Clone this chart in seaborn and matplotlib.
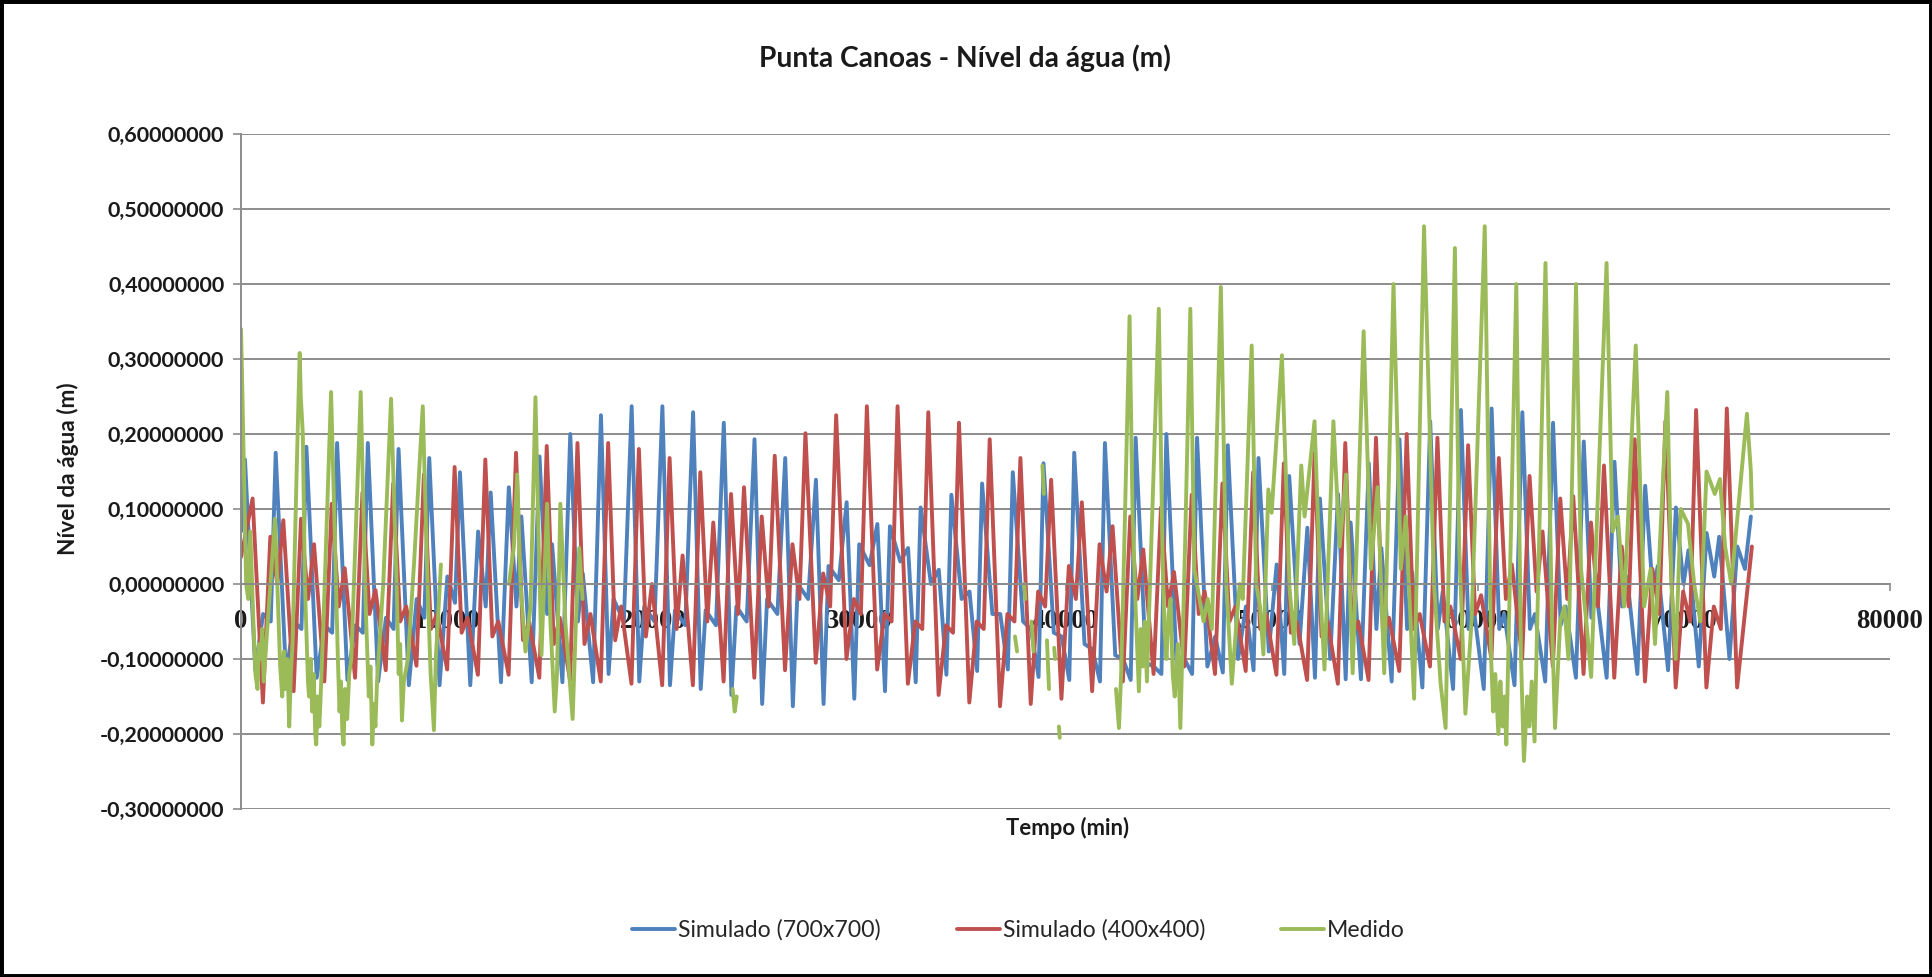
import numpy as np
import pandas as pd
import matplotlib
matplotlib.use("Agg")
import matplotlib.pyplot as plt
import seaborn as sns
from matplotlib.patches import Rectangle
from matplotlib.ticker import FuncFormatter

# cores das series (padrao Excel)
cores = {
    "Simulado (700x700)": "#4F81BD",
    "Simulado (400x400)": "#C0504D",
    "Medido": "#9BBB59",
}

# eixos
x_ticks = [0, 10000, 20000, 30000, 40000, 50000, 60000, 70000, 80000]
y_ticks = [-0.3, -0.2, -0.1, 0.0, 0.1, 0.2, 0.3, 0.4, 0.5, 0.6]

# Simulado (700x700) - extremos (tempo em min, nivel em m)
blue_t = [
    0,
    193, 693, 1073, 1443, 1683, 2183, 2563, 2933, 3173, 3673, 4053, 4423,
    4663, 5163, 5543, 5913, 6153, 6653, 7033, 7403, 7643, 8143, 8523, 8893,
    9133, 9633, 10013, 10383, 10623, 11123, 11503, 11873, 12113, 12613, 12993, 13363,
    13603, 14103, 14483, 14853, 15093, 15593, 15973, 16343, 16583, 17083, 17463, 17833,
    18073, 18573, 18953, 19323, 19563, 20063, 20443, 20813, 21053, 21553, 21933, 22303,
    22543, 23043, 23423, 23793, 24033, 24533, 24913, 25283, 25523, 26023, 26403, 26773,
    27013, 27513, 27893, 28263, 28503, 29003, 29383, 29753, 29993, 30493, 30873, 31243,
    31483, 31983, 32363, 32733, 32973, 33473, 33853, 34223, 34463, 34963, 35343, 35713,
    35953, 36453, 36833, 37203, 37443, 37943, 38323, 38693, 38933, 39433, 39813, 40183,
    40423, 40923, 41303, 41673, 41913, 42413, 42793, 43163, 43403, 43903, 44283, 44653,
    44893, 45393, 45773, 46143, 46383, 46883, 47263, 47633, 47873, 48373, 48753, 49123,
    49363, 49863, 50243, 50613, 50853, 51353, 51733, 52103, 52343, 52843, 53223, 53593,
    53833, 54333, 54713, 55083, 55323, 55823, 56203, 56573, 56813, 57313, 57693, 58063,
    58303, 58803, 59183, 59553, 59793, 60293, 60673, 61043, 61283, 61783, 62163, 62533,
    62773, 63273, 63653, 64023, 64263, 64763, 65143, 65513, 65753, 66253, 66633, 67003,
    67243, 67743, 68123, 68493, 68733, 69233, 69613, 69983, 70223, 70723, 71103, 71473,
    71713, 72213, 72593, 72963,
    73250,
]
blue_v = [
    0.07,
    0.166, -0.115, -0.04, -0.05, 0.175, -0.12, -0.05, -0.06, 0.183, -0.125, -0.055, -0.065,
    0.188, -0.128, -0.055, -0.065, 0.188, -0.13, -0.045, -0.06, 0.180, -0.135, -0.02, -0.045,
    0.168, -0.135, 0.01, -0.025, 0.149, -0.135, 0.07, -0.03, 0.122, -0.131, 0.129, -0.03,
    0.090, -0.131, 0.170, -0.04, 0.053, -0.131, 0.200, -0.05, 0.014, -0.131, 0.225, -0.12,
    -0.02, -0.05, 0.237, -0.13, -0.03, -0.05, 0.237, -0.135, -0.035, -0.055, 0.229, -0.14,
    -0.035, -0.055, 0.215, -0.148, -0.03, -0.05, 0.193, -0.16, -0.02, -0.04, 0.168, -0.163,
    0.0, -0.02, 0.139, -0.16, 0.024, 0.005, 0.109, -0.153, 0.053, 0.025, 0.080, -0.143,
    0.077, 0.03, 0.048, -0.131, 0.102, 0.0, 0.019, -0.121, 0.119, -0.02, -0.01, -0.116,
    0.134, -0.04, -0.04, -0.114, 0.149, -0.05, -0.06, -0.124, 0.161, -0.065, -0.07, -0.128,
    0.175, -0.08, -0.087, -0.13, 0.188, -0.095, -0.10, -0.128, 0.195, -0.105, -0.11, -0.12,
    0.200, -0.11, -0.10, -0.12, 0.195, -0.11, -0.07, -0.118, 0.185, -0.10, -0.03, -0.115,
    0.168, -0.09, 0.026, -0.12, 0.144, -0.08, 0.075, -0.125, 0.114, -0.10, 0.12, -0.127,
    0.082, -0.127, 0.161, -0.06, 0.048, -0.13, 0.193, -0.06, 0.016, -0.138, 0.217, -0.06,
    -0.01, -0.14, 0.232, -0.06, -0.03, -0.14, 0.234, -0.06, -0.04, -0.135, 0.229, -0.06,
    -0.04, -0.13, 0.215, -0.055, -0.03, -0.125, 0.190, -0.045, -0.01, -0.125, 0.163, -0.03,
    0.01, -0.12, 0.131, -0.01, 0.024, -0.115, 0.102, 0.0, 0.045, -0.11, 0.068, 0.01,
    0.063, -0.10, 0.05, 0.02,
    0.09,
]

# Simulado (400x400)
red_t = [
    0,
    563, 1063, 1423, 1763, 2053, 2553, 2913, 3253, 3543, 4043, 4403, 4743,
    5033, 5533, 5893, 6233, 6523, 7023, 7383, 7723, 8013, 8513, 8873, 9213,
    9503, 10003, 10363, 10703, 10993, 11493, 11853, 12193, 12483, 12983, 13343, 13683,
    13973, 14473, 14833, 15173, 15463, 15963, 16323, 16663, 16953, 17453, 17813, 18153,
    18443, 18943, 19303, 19643, 19933, 20433, 20793, 21133, 21423, 21923, 22283, 22623,
    22913, 23413, 23773, 24113, 24403, 24903, 25263, 25603, 25893, 26393, 26753, 27093,
    27383, 27883, 28243, 28583, 28873, 29373, 29733, 30073, 30363, 30863, 31223, 31563,
    31853, 32353, 32713, 33053, 33343, 33843, 34203, 34543, 34833, 35333, 35693, 36033,
    36323, 36823, 37183, 37523, 37813, 38313, 38673, 39013, 39303, 39803, 40163, 40503,
    40793, 41293, 41653, 41993, 42283, 42783, 43143, 43483, 43773, 44273, 44633, 44973,
    45263, 45763, 46123, 46463, 46753, 47253, 47613, 47953, 48243, 48743, 49103, 49443,
    49733, 50233, 50593, 50933, 51223, 51723, 52083, 52423, 52713, 53213, 53573, 53913,
    54203, 54703, 55063, 55403, 55693, 56193, 56553, 56893, 57183, 57683, 58043, 58383,
    58673, 59173, 59533, 59873, 60163, 60663, 61023, 61363, 61653, 62153, 62513, 62853,
    63143, 63643, 64003, 64343, 64633, 65133, 65493, 65833, 66123, 66623, 66983, 67323,
    67613, 68113, 68473, 68813, 69103, 69603, 69963, 70303, 70593, 71093, 71453, 71793,
    72083, 72583,
    73300,
]
red_v = [
    0.036,
    0.114, -0.158, 0.063, 0.0, 0.085, -0.143, 0.087, -0.02, 0.053, -0.13, 0.107, -0.03,
    0.021, -0.125, 0.122, -0.04, -0.008, -0.115, 0.134, -0.05, -0.03, -0.109, 0.146, -0.06,
    -0.04, -0.114, 0.156, -0.065, -0.045, -0.121, 0.166, -0.07, -0.05, -0.121, 0.175, -0.075,
    -0.05, -0.125, 0.184, -0.08, -0.045, -0.128, 0.188, -0.08, -0.04, -0.13, 0.188, -0.075,
    -0.03, -0.133, 0.180, -0.07, 0.0, -0.135, 0.168, -0.06, 0.038, -0.135, 0.149, -0.05,
    0.082, -0.13, 0.120, -0.04, 0.129, -0.125, 0.090, -0.03, 0.171, -0.115, 0.053, -0.02,
    0.201, -0.105, 0.014, -0.03, 0.225, -0.10, -0.02, -0.04, 0.237, -0.114, -0.04, -0.05,
    0.237, -0.133, -0.05, -0.06, 0.229, -0.148, -0.055, -0.065, 0.215, -0.158, -0.05, -0.06,
    0.193, -0.163, -0.04, -0.05, 0.168, -0.16, -0.01, -0.03, 0.139, -0.153, 0.024, -0.02,
    0.109, -0.143, 0.053, -0.01, 0.077, -0.13, 0.09, -0.02, 0.046, -0.12, 0.102, -0.03,
    0.016, -0.11, 0.119, -0.04, -0.01, -0.12, 0.134, -0.05, -0.03, -0.116, 0.149, -0.06,
    -0.04, -0.121, 0.161, -0.065, -0.05, -0.128, 0.175, -0.07, -0.05, -0.133, 0.188, -0.07,
    -0.05, -0.128, 0.195, -0.065, -0.045, -0.116, 0.200, -0.06, -0.04, -0.11, 0.195, -0.05,
    -0.03, -0.10, 0.185, -0.04, -0.015, -0.10, 0.168, -0.02, 0.026, -0.10, 0.144, -0.01,
    0.07, -0.11, 0.114, -0.02, 0.117, -0.12, 0.082, -0.03, 0.158, -0.125, 0.05, -0.03,
    0.193, -0.13, 0.02, -0.04, 0.217, -0.138, -0.01, -0.05, 0.232, -0.138, -0.03, -0.06,
    0.234, -0.138,
    0.05,
]

# Medido - NaN marca falhas na serie
nan = np.nan
green_t = [
    0, 50, 250, 350, 450, 600, 700, 800, 870, 950, 1030, 1100, 1300, 1650, 1800, 1900,
    2000, 2080, 2150, 2250, 2340, 2420, 2500, 2700, 2848, 2900, 3000, 3100, 3250, 3300,
    3380, 3450, 3530, 3600, 3650, 3720, 3800, 3850, 4000, 4370, 4550, 4700, 4780, 4850,
    4920, 4976, 5050, 5150, 5250, 5350, 5808, 6050, 6200, 6280, 6370, 6450, 6520, 6600,
    6900, 7280, 7550, 7650, 7720, 7808, 7900, 8100, 8400, 8818, 9050, 9200, 9360, 9450,
    9700, nan,
    13000, 13240, 13400, 13560, 13800, 14045, 14285, 14446, 14575, 14850, 15010, 15220,
    15330, 15493, 15735, 16088, 16250, 16410, 16570, nan,
    23850, 23950, 24050, nan,
    37550, 37650, nan, 38000, 38050, nan, 38350, 38450, nan, 38880, 38950, nan,
    39100, 39200, nan, 39450, 39500, nan, 39680, 39720, nan,
    42450, 42594, 42700, 42850, 43109, 43250, 43400, 43560, 43650, 43750, 43850, 43950,
    44100, 44526, 44700, 44800, 44900, 45000, 45100, 45200, 45300, 45450, 45572, 45800,
    46056, 46250, 46500, 46700, 46900, 47100, 47537, 47800, 48068, 48300, 48450, 48600,
    49034, 49250, 49437, 49600, 49839, 50000, 50500, 50870, 51100, 51437, 51600, 52081,
    52400, 52564, 52997, 53300, 53610, 53932, 54464, 54818, 55140, 55462, 55913, 56267,
    56509, 56911, 57394, 57877, 58199, 58440, 58891, 59100, 59400, 59700, 60340, 60650,
    60750, 60850, 61000, 61100, 61200, 61300, 61387, 61870, 62100, 62240, 62400, 62500,
    62620, 62755, 63286, 63600, 63750, 64000, 64200, 64400, 64768, 65010, 65300, 65500,
    66249, 66540, 66800, 67100, 67666, 68070, 68390, 68600, 69195, 69400, 69600, 69850,
    70200, 70500, 70800, 71100, 71500, 71750, 72000, 72300, 73059, 73250, 73300,
]
green_v = [
    0.34, 0.278, 0.0, -0.02, 0.07, -0.05, -0.12, -0.14, -0.08, -0.1, -0.06, -0.13, -0.05, 0.087, -0.03, -0.11,
    -0.15, -0.09, -0.14, -0.1, -0.19, -0.12, -0.08, 0.15, 0.308, 0.25, 0.2, 0.0, -0.13, -0.15,
    -0.1, -0.17, -0.12, -0.2, -0.214, -0.15, -0.19, -0.16, -0.05, 0.256, 0.065, -0.1, -0.17, -0.13,
    -0.2, -0.214, -0.14, -0.18, -0.12, -0.1, 0.256, -0.03, -0.15, -0.11, -0.214, -0.16, -0.19, -0.13,
    0.0, 0.247, 0.0, -0.12, -0.08, -0.182, -0.13, -0.1, 0.03, 0.237, 0.0, -0.12, -0.195, -0.1,
    0.026, nan,
    0.0, 0.05, 0.146, 0.0, -0.09, -0.03, 0.249, 0.05, -0.095, 0.107, -0.05, -0.17,
    -0.12, 0.107, -0.05, -0.18, -0.05, 0.048, -0.02, nan,
    -0.14, -0.17, -0.15, nan,
    -0.07, -0.09, nan, 0.0, -0.02, nan, -0.05, -0.09, nan, 0.158, 0.12, nan,
    -0.075, -0.14, nan, -0.085, -0.1, nan, -0.19, -0.205, nan,
    -0.14, -0.192, -0.12, 0.05, 0.357, 0.1, -0.03, -0.143, -0.06, -0.11, -0.05, -0.13,
    0.0, 0.367, 0.05, -0.06, -0.1, -0.04, -0.02, -0.12, -0.15, -0.08, -0.192, 0.05,
    0.367, 0.02, -0.02, -0.05, -0.02, -0.06, 0.396, 0.0, -0.133, -0.05, 0.0, -0.02,
    0.318, 0.0, -0.03, -0.094, 0.126, 0.095, 0.305, -0.006, -0.08, 0.158, 0.09, 0.217,
    -0.03, -0.114, 0.217, 0.05, 0.146, -0.119, 0.337, 0.02, 0.129, -0.119, 0.4, 0.02,
    0.09, -0.153, 0.477, 0.0, -0.133, -0.192, 0.448, 0.05, -0.173, -0.05, 0.477, -0.1,
    -0.17, -0.12, -0.2, -0.13, -0.19, -0.15, -0.214, 0.4, -0.1, -0.236, -0.15, -0.19,
    -0.13, -0.21, 0.428, -0.05, -0.192, -0.05, -0.03, -0.1, 0.4, 0.02, -0.06, -0.124,
    0.428, 0.07, 0.09, -0.03, 0.318, -0.03, 0.02, -0.08, 0.256, 0.0, -0.1, 0.1,
    0.08, 0.0, -0.05, 0.15, 0.12, 0.14, 0.05, 0.0, 0.227, 0.15, 0.1,
]


def serie(nome, t, v):
    d = pd.DataFrame({"t": t, "v": v})
    d["serie"] = nome
    d["trecho"] = nome + d["v"].isna().cumsum().astype(str)
    return d.dropna()


df = pd.concat([
    serie("Simulado (700x700)", blue_t, blue_v),
    serie("Simulado (400x400)", red_t, red_v),
    serie("Medido", green_t, green_v),
], ignore_index=True)

sns.set_theme(style="white")
plt.rcParams["font.family"] = ["Lato", "DejaVu Sans"]
serif = ["Liberation Serif", "DejaVu Serif"]
preto = "#1a1a1a"

W, H = 1932, 977
fig = plt.figure(figsize=(W / 100, H / 100), dpi=100)
ax = fig.add_axes([241 / W, (H - 809) / H, (1890 - 241) / W, (809 - 134) / H])
rend = fig.canvas.get_renderer()


def tamanho(texto, largura, **kw):
    # tamanho de fonte que da a largura (px) medida na figura original
    t = fig.text(0, 0, texto, fontsize=20, **kw)
    w = t.get_window_extent(rend).width
    t.remove()
    return 20 * largura / w


sns.lineplot(data=df, x="t", y="v", hue="serie", units="trecho", estimator=None,
             sort=False, palette=cores, hue_order=list(cores), linewidth=2.8,
             solid_joinstyle="round", solid_capstyle="round", ax=ax)

ax.set_xlim(0, 80000)
ax.set_ylim(-0.3, 0.6)
ax.set_xticks(x_ticks)
ax.set_yticks(y_ticks)
ax.xaxis.set_major_formatter(FuncFormatter(lambda x, _: str(int(round(x)))))
ax.yaxis.set_major_formatter(FuncFormatter(lambda y, _: f"{round(y, 8) + 0.0:.8f}".replace(".", ",")))

grid_cor = "#8c8c8c"
ax.set_axisbelow(True)
ax.yaxis.grid(True, color=grid_cor, lw=1.4)
ax.xaxis.grid(False)
for s in ["top", "right"]:
    ax.spines[s].set_visible(False)
ax.spines["left"].set_color(grid_cor)
ax.spines["left"].set_linewidth(1.4)
ax.spines["bottom"].set_position(("data", 0))
ax.spines["bottom"].set_color(grid_cor)
ax.spines["bottom"].set_linewidth(1.4)

ax.tick_params(axis="y", direction="out", length=6, width=1.2, color=grid_cor, pad=6, left=True)
ax.tick_params(axis="x", direction="out", length=5, width=1.2, color=grid_cor, pad=13, bottom=True)

fs_y = tamanho("0,60000000", 118, fontweight="bold")
fs_x = tamanho("10000", 66, fontweight="bold", family=serif)
for lab in ax.get_yticklabels():
    lab.set_fontweight("bold")
    lab.set_fontsize(fs_y)
    lab.set_color(preto)
for lab in ax.get_xticklabels():
    lab.set_fontfamily(serif)
    lab.set_fontweight("bold")
    lab.set_fontsize(fs_x)
    lab.set_color(preto)

ax.set_xlabel("")
ax.set_ylabel("")
titulo = "Punta Canoas - Nível da água (m)"
fig.text(965 / W, 1 - 58 / H, titulo, ha="center", va="center",
         fontsize=tamanho(titulo, 410, fontweight="bold"), fontweight="bold", color=preto)
fig.text(68 / W, 1 - 469 / H, "Nível da água (m)", rotation=90, ha="center", va="center",
         fontsize=tamanho("Nível da água (m)", 172, fontweight="bold"), fontweight="bold", color=preto)
fig.text(1068 / W, 1 - 828 / H, "Tempo (min)", ha="center", va="center",
         fontsize=tamanho("Tempo (min)", 123, fontweight="bold"), fontweight="bold", color=preto)

handles, labels = ax.get_legend_handles_labels()
ax.get_legend().remove()
fs_leg = tamanho("Simulado (700x700)", 202)
em = fs_leg * 100 / 72
fig.legend(handles, labels, loc="center left", bbox_to_anchor=(632 / W, 1 - 930 / H), ncol=3,
           frameon=False, fontsize=fs_leg, handlelength=43 / em, handletextpad=3 / em,
           columnspacing=76 / em, borderpad=0, borderaxespad=0)

fig.patches.append(Rectangle((0, 0), 1, 1, transform=fig.transFigure, fill=False,
                             edgecolor="black", lw=5))

fig.savefig("out.png", dpi=100)
